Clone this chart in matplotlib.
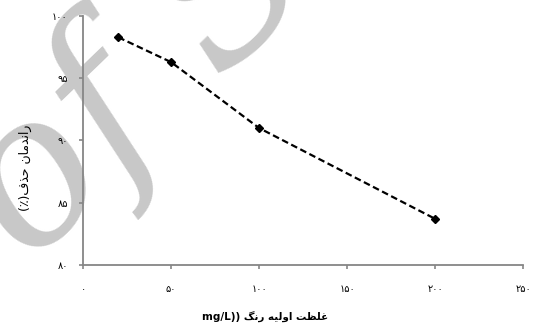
import matplotlib.pyplot as plt

# dye concentration (mg/L) vs removal efficiency (%)
conc = [20, 50, 100, 200]
removal = [98.3, 96.3, 91.0, 83.7]

x_ticks = [0, 50, 100, 150, 200, 250]
y_ticks = [80, 85, 90, 95, 100]

# Persian digits
fa = str.maketrans('0123456789', '۰۱۲۳۴۵۶۷۸۹')

# labels written in shaped presentation forms, visual (left-to-right) order
xlabel = 'mg/L)) ' + 'ﮓﻧﺭ' + ' ' + 'ﻪﻴﻟﻭﺍ' + ' ' + 'ﺖﻈﻠﻏ'
ylabel = '(٪)' + 'ﻑﺬﺣ' + ' ' + 'ﻥﺎﻣﺪﻧﺍﺭ'

plt.rcParams['font.family'] = ['DejaVu Sans']

fig = plt.figure(figsize=(5.36, 3.29), dpi=100)
ax = fig.add_axes([0.155, 0.195, 0.821, 0.756])
ax.set_facecolor('none')

# watermark behind the plot
fig.text(0.055, 0.19, 'of SID', fontsize=148, family='DejaVu Serif',
         style='italic', color='#c8c8c8', rotation=44,
         rotation_mode='anchor', zorder=-1, ha='left', va='baseline')

ax.plot(conc, removal, '--', color='black', lw=1.6, dashes=(3, 1.6),
        marker='D', ms=4.5, mfc='black', mec='black')

ax.set_xlim(0, 250)
ax.set_ylim(80, 100)
ax.set_xticks(x_ticks)
ax.set_xticklabels([str(v).translate(fa) for v in x_ticks])
ax.set_yticks(y_ticks)
ax.set_yticklabels([str(v).translate(fa) for v in y_ticks])

for s in ['top', 'right']:
    ax.spines[s].set_visible(False)
for s in ['left', 'bottom']:
    ax.spines[s].set_color('#868686')
    ax.spines[s].set_linewidth(1.3)
ax.tick_params(colors='#868686', labelcolor='black', direction='out',
               length=3, width=1.2, labelsize=7)
ax.tick_params(axis='x', pad=11)
ax.tick_params(axis='y', pad=8)

fig.text(0.495, 0.035, xlabel, fontsize=7.5, fontweight='bold',
         ha='center', va='center')
fig.text(0.047, 0.49, ylabel, fontsize=9, rotation=90,
         ha='center', va='center')

fig.savefig('out.png', dpi=100)
